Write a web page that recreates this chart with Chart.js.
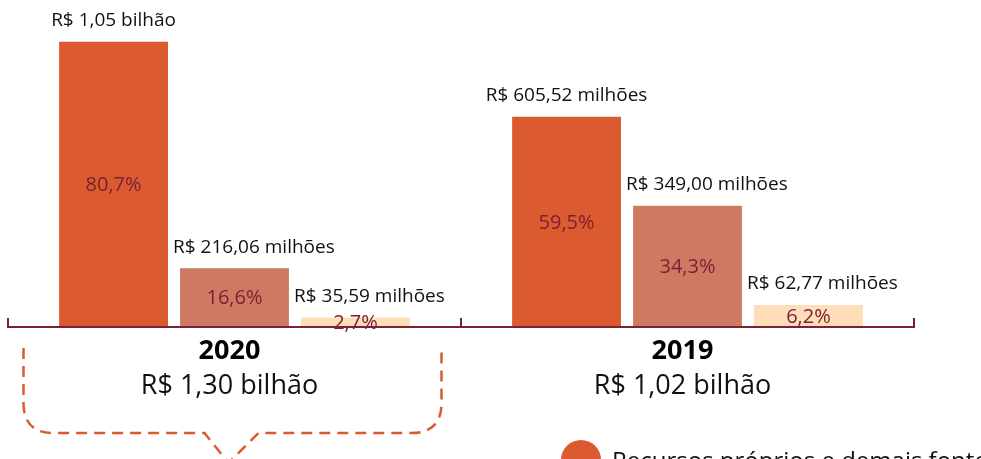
<!DOCTYPE html>
<html lang="pt-BR">
<head>
<meta charset="utf-8">
<title>Orçamento 2020 x 2019</title>
<script src="https://cdn.jsdelivr.net/npm/chart.js@4.4.1/dist/chart.umd.min.js"></script>
<style>
  html, body { margin: 0; padding: 0; background: #fff; overflow: hidden; }
  #wrap { position: relative; width: 981px; height: 459px; }
</style>
</head>
<body>
<div id="wrap"><canvas id="budgetChart"></canvas></div>
<script>
// categorias (anos) e totais
const years = ['2020', '2019'];
const yearTotals = ['R$ 1,30 bilhão', 'R$ 1,02 bilhão'];

// participação de cada fonte (%), a altura das barras
const ownShare = [80.7, 59.5];
const secondShare = [16.6, 34.3];
const thirdShare = [2.7, 6.2];

// valores em reais mostrados acima das barras
const ownAmount = ['R$ 1,05 bilhão', 'R$ 605,52 milhões'];
const secondAmount = ['R$ 216,06 milhões', 'R$ 349,00 milhões'];
const thirdAmount = ['R$ 35,59 milhões', 'R$ 62,77 milhões'];

const seriesNames = ['Recursos próprios e demais fontes', 'Fonte 2', 'Fonte 3'];
const seriesColors = ['#DC5A30', '#CF7962', '#FDDEB9'];

const amounts = [ownAmount, secondAmount, thirdAmount];
const FONT = '"Open Sans", sans-serif';
const MAROON = '#7A2136';

const annotations = {
    id: 'annotations',
    afterDatasetsDraw(chart) {
        const ctx = chart.ctx;
        const xs = chart.scales.x;
        const ys = chart.scales.y;
        const area = chart.chartArea;
        const baseY = ys.getPixelForValue(0);

        // percent and amount labels
        chart.data.datasets.forEach(function (ds, di) {
            chart.getDatasetMeta(di).data.forEach(function (bar, i) {
                ctx.save();
                ctx.textBaseline = 'middle';
                ctx.fillStyle = MAROON;
                ctx.font = '20px ' + FONT;
                ctx.textAlign = 'center';
                ctx.fillText(ds.data[i].toFixed(1).replace('.', ',') + '%', bar.x, (bar.y + bar.base) / 2 + 1);

                ctx.fillStyle = '#111';
                ctx.font = '19px ' + FONT;
                if (di === 0) {
                    ctx.textAlign = 'center';
                    ctx.fillText(amounts[di][i], bar.x, bar.y - 21);
                } else {
                    ctx.textAlign = 'left';
                    ctx.fillText(amounts[di][i], bar.x - bar.width / 2 - 7, bar.y - 21);
                }
                ctx.restore();
            });
        });

        // baseline with upward ticks between categories
        const catW = (area.right - area.left) / years.length;
        ctx.save();
        ctx.strokeStyle = MAROON;
        ctx.lineWidth = 2;
        ctx.beginPath();
        ctx.moveTo(area.left, baseY);
        ctx.lineTo(area.right, baseY);
        for (let k = 0; k <= years.length; k++) {
            const tx = area.left + k * catW;
            ctx.moveTo(tx, baseY + 1);
            ctx.lineTo(tx, baseY - 9);
        }
        ctx.stroke();
        ctx.restore();

        // year and total under each group
        years.forEach(function (yr, i) {
            const cx = xs.getPixelForValue(i) - 5;
            ctx.save();
            ctx.textAlign = 'center';
            ctx.textBaseline = 'middle';
            ctx.fillStyle = '#000';
            ctx.font = 'bold 27px ' + FONT;
            ctx.fillText(yr, cx, baseY + 24);
            ctx.fillStyle = '#111';
            ctx.font = '27px ' + FONT;
            ctx.fillText(yearTotals[i], cx, baseY + 59);
            ctx.restore();
        });

        // dashed bracket under 2020
        const bx = xs.getPixelForValue(0);
        const L = bx - 211, R = bx + 207, top = baseY + 21, bot = baseY + 106, rad = 30;
        ctx.save();
        ctx.strokeStyle = '#DC5A30';
        ctx.lineWidth = 2.5;
        ctx.setLineDash([11, 7]);
        ctx.beginPath();
        ctx.moveTo(L, top);
        ctx.lineTo(L, bot - rad);
        ctx.quadraticCurveTo(L, bot, L + rad, bot);
        ctx.lineTo(bx - 30, bot);
        ctx.lineTo(bx - 6, bot + 30);
        ctx.lineTo(bx + 24, bot);
        ctx.lineTo(R - rad, bot);
        ctx.quadraticCurveTo(R, bot, R, bot - rad);
        ctx.lineTo(R, top);
        ctx.stroke();
        ctx.restore();

        // legend (first item, the rest falls below the picture)
        ctx.save();
        ctx.fillStyle = seriesColors[0];
        ctx.beginPath();
        ctx.arc(581, 460, 20, 0, Math.PI * 2);
        ctx.fill();
        ctx.fillStyle = '#111';
        ctx.font = '24px ' + FONT;
        ctx.textAlign = 'left';
        ctx.textBaseline = 'alphabetic';
        ctx.fillText(chart.data.datasets[0].label, 612, 469);
        ctx.restore();
    }
};

const ctx = document.getElementById('budgetChart').getContext('2d');
new Chart(ctx, {
    type: 'bar',
    data: {
        labels: years,
        datasets: [ownShare, secondShare, thirdShare].map(function (vals, i) {
            return {
                label: seriesNames[i],
                data: vals,
                backgroundColor: seriesColors[i],
                borderWidth: 0,
                categoryPercentage: 0.801,
                barPercentage: 0.9
            };
        })
    },
    options: {
        responsive: true,
        maintainAspectRatio: false,
        animation: false,
        layout: { padding: { left: 8, right: 67, top: 9, bottom: 132 } },
        plugins: {
            legend: { display: false },
            tooltip: { enabled: false }
        },
        scales: {
            x: { display: false, offset: true, grid: { display: false } },
            y: { display: false, min: 0, max: 90, grid: { display: false } }
        }
    },
    plugins: [annotations]
});
</script>
</body>
</html>
